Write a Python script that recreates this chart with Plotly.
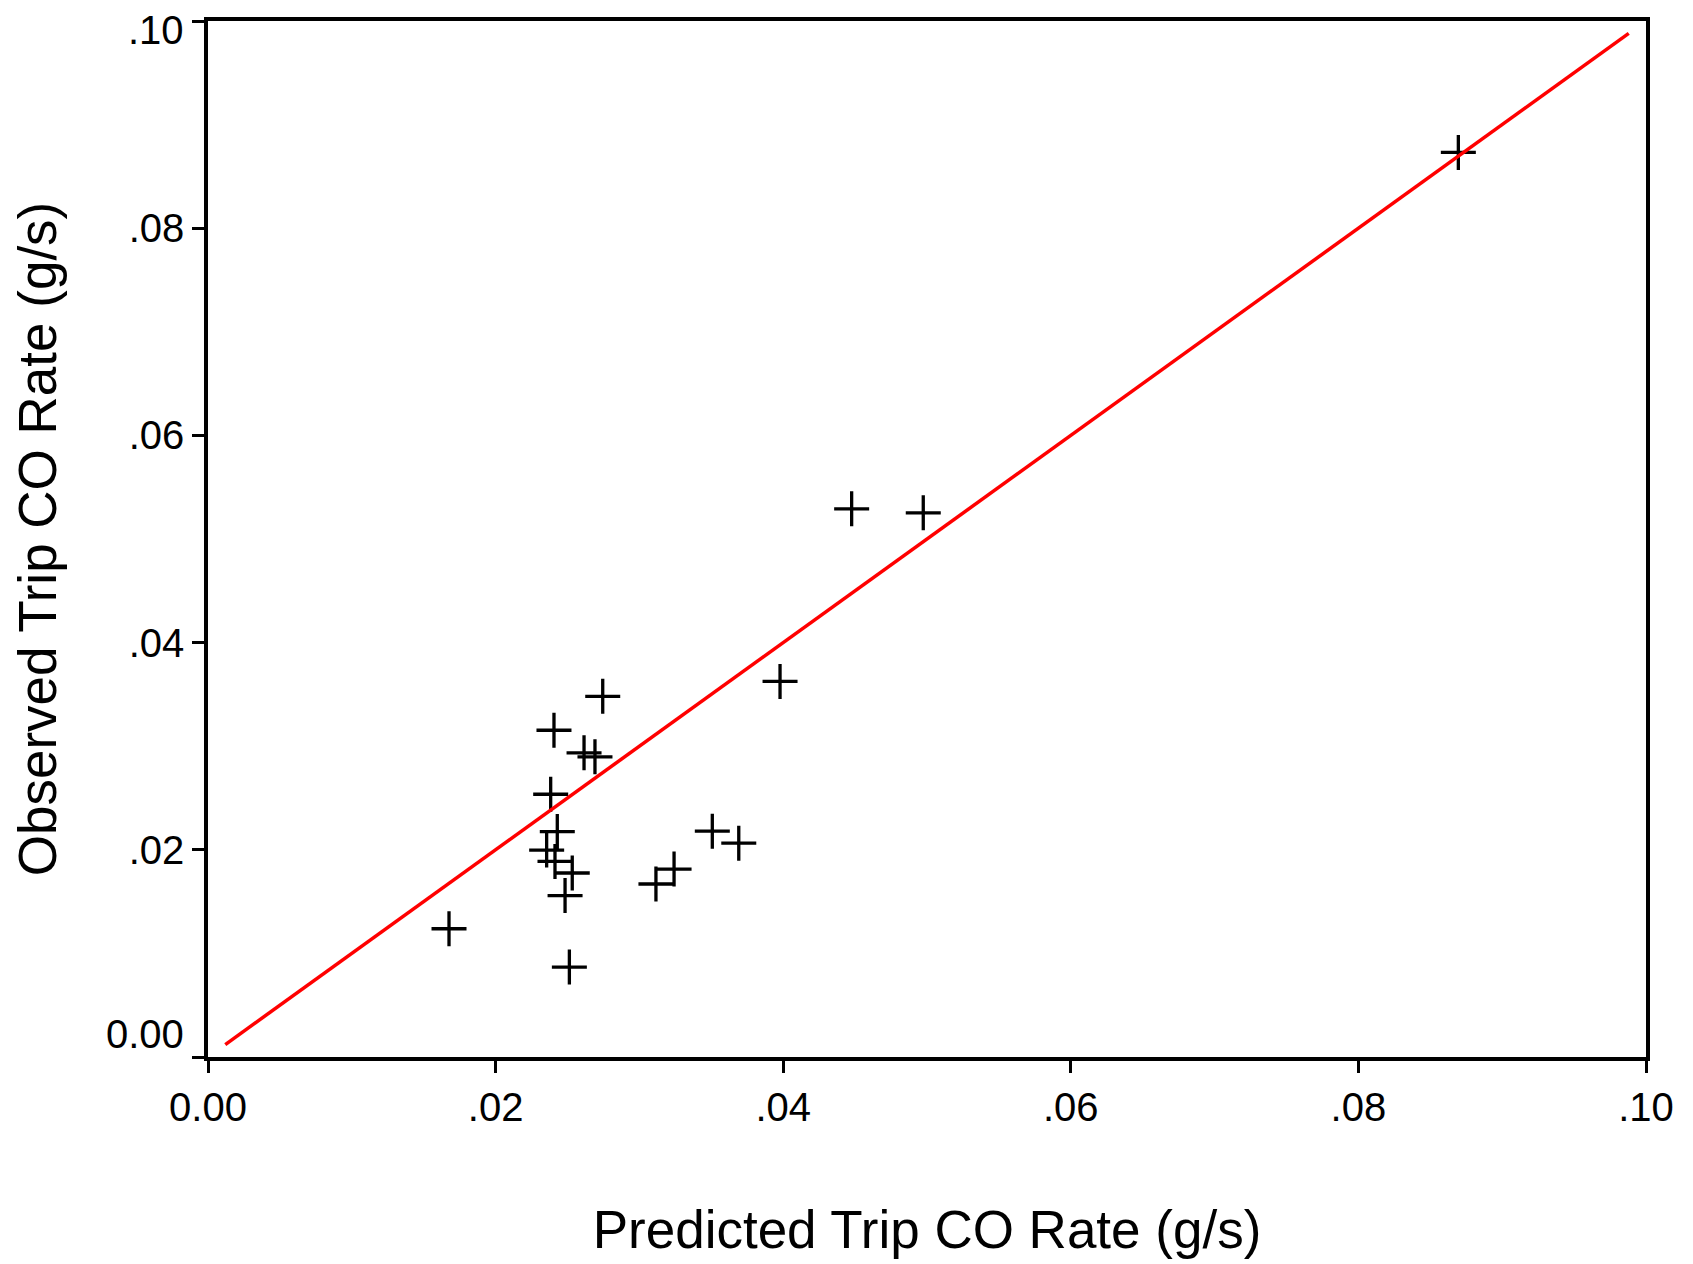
import plotly.graph_objects as go

# Predicted vs observed trip CO rate (g/s)
predicted = [0.02745, 0.02406, 0.02615, 0.02691, 0.02383, 0.02429, 0.02355,
             0.02413, 0.02533, 0.02483, 0.02513, 0.01676, 0.03115, 0.03241,
             0.03507, 0.03691, 0.03978, 0.04476, 0.04974, 0.08695]
observed = [0.03481, 0.03154, 0.02936, 0.02897, 0.02536, 0.02176, 0.01997,
            0.01888, 0.01776, 0.01558, 0.00868, 0.01238, 0.01670, 0.01814,
            0.02180, 0.02064, 0.03625, 0.05291, 0.05253, 0.08731]

# line of equality
line_x = [0.0012, 0.0988]
line_y = [0.0012, 0.0988]

tick_vals = [0, 0.02, 0.04, 0.06, 0.08, 0.10]
x_tick_text = ["0.00", ".02", ".04", ".06", ".08", ".10"]
# end labels of the y axis are nudged inward, drawn separately below
y_tick_text = ["", ".02", ".04", ".06", ".08", ""]

fig = go.Figure()

fig.add_trace(go.Scatter(
    x=predicted, y=observed, mode="markers",
    marker=dict(symbol="cross-thin", size=25, line=dict(color="black", width=3.3)),
    showlegend=False
))

fig.add_trace(go.Scatter(
    x=line_x, y=line_y, mode="lines",
    line=dict(color="#ff0000", width=3.5),
    showlegend=False
))

axis_style = dict(
    range=[0, 0.1], tickvals=tick_vals,
    showgrid=False, zeroline=False,
    showline=True, linecolor="black", linewidth=3.5, mirror=True,
    ticks="outside", ticklen=12, tickwidth=3, tickcolor="black",
    tickfont=dict(size=40, color="black"),
)

# page body has an 8px margin, so the margins are trimmed to keep the frame in place
fig.update_layout(
    width=1693, height=1264,
    margin=dict(l=200, r=55, t=9, b=215),
    paper_bgcolor="white", plot_bgcolor="white",
    font=dict(family="Liberation Sans, Arial, sans-serif", color="black"),
    xaxis=dict(axis_style, ticktext=x_tick_text,
               title=dict(text="Predicted Trip CO Rate (g/s)",
                          font=dict(size=53), standoff=84)),
    yaxis=dict(axis_style, ticktext=y_tick_text,
               title=dict(text="Observed Trip CO Rate (g/s)",
                          font=dict(size=53), standoff=57)),
    annotations=[
        dict(text="0.00", xref="paper", yref="y", x=0, y=0, xanchor="right",
             yanchor="middle", xshift=-22, yshift=23, showarrow=False,
             font=dict(size=40)),
        dict(text=".10", xref="paper", yref="y", x=0, y=0.1, xanchor="right",
             yanchor="middle", xshift=-22, yshift=-9, showarrow=False,
             font=dict(size=40)),
    ],
)

fig.write_html("out.html")
